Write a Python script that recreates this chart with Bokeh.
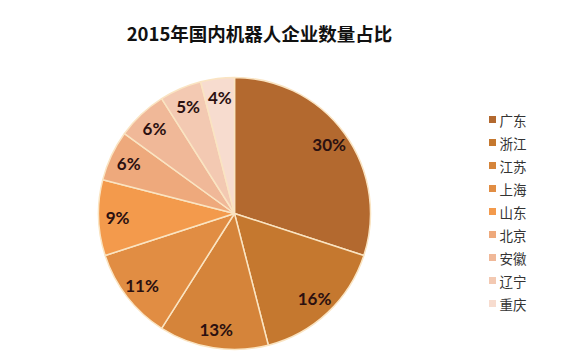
import numpy as np
from bokeh.plotting import figure
from bokeh.models import ColumnDataSource, Range1d
from bokeh.core.properties import value
from bokeh.embed import file_html
from bokeh.resources import INLINE

title_text = "2015年国内机器人企业数量占比"
provinces = ["广东", "浙江", "江苏", "上海", "山东", "北京", "安徽", "辽宁", "重庆"]
shares = [30, 16, 13, 11, 9, 6, 6, 5, 4]
slice_colors = ["#B3692F", "#C5782F", "#D5843A", "#E18D43", "#F39A4C",
                "#EEA97C", "#F0B898", "#F3C9B2", "#F7DCCF"]
pct_labels = [f"{s}%" for s in shares]

W, H = 568, 355
p = figure(width=W, height=H, x_range=Range1d(0, W), y_range=Range1d(0, H),
           output_backend="svg", toolbar_location=None, min_border=0)
p.axis.visible = False
p.grid.visible = False
p.outline_line_color = None
p.background_fill_color = "white"
p.border_fill_color = "white"

cx, cy, R = 234, H - 213, 136
frac = np.array(shares, dtype=float) / sum(shares)
cum = np.concatenate([[0.0], np.cumsum(frac)])
start = np.pi / 2 - cum[:-1] * 2 * np.pi
end = np.pi / 2 - cum[1:] * 2 * np.pi
mid = (start + end) / 2
rl = 0.86 * R

src = ColumnDataSource(dict(
    start=start, end=end, color=slice_colors, label=pct_labels,
    lx=cx + rl * np.cos(mid), ly=cy + rl * np.sin(mid),
))

p.wedge(x=cx, y=cy, radius=R, radius_units="screen", start_angle="start", end_angle="end",
        direction="clock", fill_color="color", line_color="#FAE4C2", line_width=1.5, source=src)

p.text(x="lx", y="ly", text="label", source=src, text_align="center", text_baseline="middle",
       text_font=value("Lato"), text_font_style="bold", text_font_size="17px", text_color="#2B1010")

# title
p.text(x=[259], y=[H - 32], text=[title_text], text_align="center", text_baseline="middle",
       text_font=value("Noto Sans CJK SC"), text_font_style="bold", text_font_size="18.5px",
       text_color="#111111")

# legend
n = len(provinces)
leg_y = [H - 119 - 23 * i for i in range(n)]
leg = ColumnDataSource(dict(x=[492] * n, tx=[499] * n, y=leg_y, color=slice_colors, name=provinces))
p.scatter(x="x", y="y", marker="square", size=7, fill_color="color", line_color=None, source=leg)
p.text(x="tx", y="y", text="name", source=leg, text_align="left", text_baseline="middle",
       text_font=value("Noto Sans CJK SC"), text_font_size="13.5px", text_color="#333333")

open("out.html", "w").write(file_html(p, INLINE))
